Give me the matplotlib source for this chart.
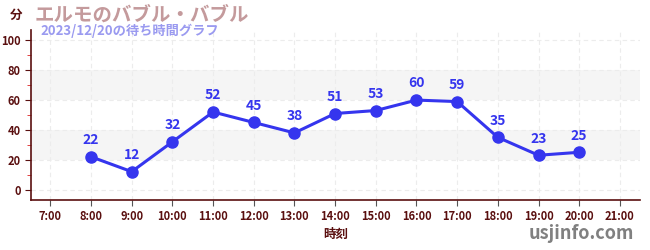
import matplotlib
matplotlib.use("Agg")
import matplotlib.pyplot as plt
from matplotlib.ticker import MultipleLocator

plt.rcParams['font.family'] = ['Noto Sans CJK JP', 'DejaVu Sans']

hours = [8, 9, 10, 11, 12, 13, 14, 15, 16, 17, 18, 19, 20]
waits = [22, 12, 32, 52, 45, 38, 51, 53, 60, 59, 35, 23, 25]
tick_hours = list(range(7, 22))
tick_labels = [f"{h}:00" for h in tick_hours]

dark = '#5a0f0f'
fig = plt.figure(figsize=(6.5, 2.5), dpi=100)
ax = fig.add_axes([0.048, 0.2, 0.937, 0.68])
ax.set_xlim(6.53, 21.5)
ax.set_ylim(-7, 107)

for lo, hi in [(20, 40), (60, 80)]:
    ax.axhspan(lo, hi, color='#f5f5f5', zorder=0, lw=0)

ax.set_xticks(tick_hours)
ax.set_xticklabels(tick_labels)
ax.set_yticks(range(0, 101, 20))
ax.yaxis.set_minor_locator(MultipleLocator(10))
ax.grid(True, which='major', color='#ececec', linestyle=(0, (4, 3)), lw=0.8, zorder=0)

ax.plot(hours, waits, color='#3535ee', lw=2.2, marker='o', ms=8, zorder=3)
for h, w in zip(hours, waits):
    ax.annotate(str(w), (h, w), xytext=(0, 7), textcoords='offset points',
                ha='center', va='bottom', color='#3535ee', fontsize=10, fontweight='bold')

for s in ['top', 'right']:
    ax.spines[s].set_visible(False)
for s in ['left', 'bottom']:
    ax.spines[s].set_color(dark)
    ax.spines[s].set_linewidth(1.2)

ax.tick_params(axis='both', which='major', colors=dark, labelsize=8, length=4)
ax.tick_params(axis='x', which='major', colors='#555555', labelcolor=dark)
ax.tick_params(axis='y', which='minor', colors='#dd2222', length=3)
for lab in ax.get_xticklabels() + ax.get_yticklabels():
    lab.set_fontweight('bold')

ax.set_xlabel('時刻', color=dark, fontsize=9, fontweight='bold', labelpad=3)

fig.text(0.015, 0.94, '分', color=dark, fontsize=9, fontweight='bold', va='center')
fig.text(0.053, 0.94, 'エルモのバブル・バブル', color='#c49a9c', fontsize=14, fontweight='bold', va='center')
fig.text(0.062, 0.875, '2023/12/20の待ち時間グラフ', color='#9a9af0', fontsize=9.5, fontweight='bold', va='center')
fig.text(0.975, 0.065, 'usjinfo.com', color='#808080', fontsize=13, fontweight='bold', ha='right', va='center')

fig.savefig('out.png', dpi=100)
